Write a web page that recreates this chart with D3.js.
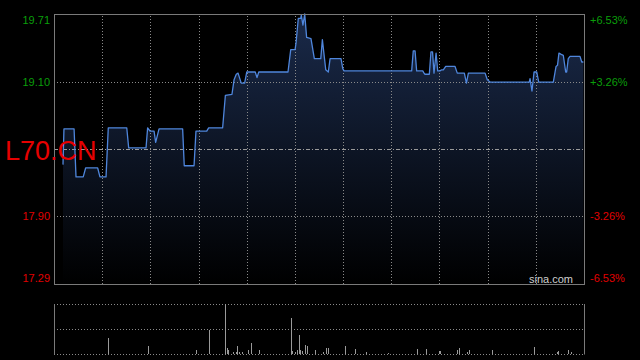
<!DOCTYPE html>
<html>
<head>
<meta charset="utf-8">
<script src="https://cdn.jsdelivr.net/npm/d3@7"></script>
<style>
  body { margin: 0; background: #000; }
  svg { display: block; }
  text { font-family: "Liberation Sans", Arial, sans-serif; }
</style>
</head>
<body>
<div id="chart"></div>
<script>
// intraday minute (0 = open) and price
var minutes = [5.6, 6.2, 12.5, 13.7, 18.2, 19.7, 27.2, 28.6, 32.4, 33.8,
  45.3, 46.5, 57.3, 58.3, 59.8, 62.3, 63.3, 65.4, 80.1, 81.1,
  87.2, 88.4, 95.1, 96.3, 105.0, 106.7, 110.8, 112.1, 113.5, 114.6,
  116.6, 118.7, 120.0, 125.3, 126.4, 127.5, 145.7, 147.4, 150.1, 150.7,
  152.1, 153.6, 154.0, 155.0, 156.1, 157.3, 160.0, 162.1, 166.1, 167.1,
  169.2, 170.8, 171.9, 178.7, 179.8, 180.6, 222.7, 223.7, 224.8, 225.8,
  229.6, 230.4, 231.0, 233.7, 234.7, 235.7, 236.6, 237.9, 238.9, 240.3,
  241.4, 242.4, 243.9, 249.7, 251.1, 255.5, 256.8, 258.0, 268.4, 269.8,
  271.5, 295.9, 296.4, 297.6, 298.9, 300.6, 301.8, 310.9, 312.6, 313.5,
  314.4, 315.5, 317.1, 318.6, 319.2, 320.2, 321.3, 327.5, 328.6, 329.6];
var prices = [18.36, 18.68, 18.68, 18.25, 18.25, 18.33, 18.33, 18.25, 18.25, 18.69,
  18.69, 18.51, 18.51, 18.69, 18.66, 18.66, 18.56, 18.68, 18.68, 18.35,
  18.35, 18.66, 18.66, 18.69, 18.69, 18.98, 18.99, 19.12, 19.17, 19.18,
  19.09, 19.09, 19.19, 19.19, 19.14, 19.19, 19.19, 19.39, 19.39, 19.45,
  19.67, 19.67, 19.70, 19.61, 19.71, 19.50, 19.49, 19.31, 19.31, 19.48,
  19.21, 19.19, 19.31, 19.31, 19.22, 19.20, 19.20, 19.38, 19.38, 19.20,
  19.20, 19.18, 19.17, 19.17, 19.37, 19.37, 19.18, 19.36, 19.20, 19.20,
  19.21, 19.21, 19.24, 19.24, 19.18, 19.18, 19.09, 19.18, 19.18, 19.12,
  19.10, 19.10, 19.13, 19.02, 19.19, 19.19, 19.10, 19.10, 19.24, 19.25,
  19.36, 19.35, 19.34, 19.19, 19.19, 19.31, 19.33, 19.33, 19.28, 19.28];

var volMinutes = [33.8, 58.7, 88.4, 96.7, 106.7, 107.9, 108.5, 111.5, 113.3, 113.8,
  115.0, 116.9, 121.0, 122.8, 127.8, 147.8, 148.4, 150.1, 151.3, 152.7,
  153.4, 154.6, 156.5, 157.7, 162.7, 167.7, 169.4, 170.8, 181.2, 187.6,
  194.5, 208.1, 226.2, 231.4, 239.5, 240.5, 251.1, 252.3, 257.3, 258.6,
  272.5, 299.1, 313.4, 314.0, 320.2, 322.1];
var volumes = [32000, 16000, 8000, 48000, 100000, 12000, 8000, 4000, 4000, 16000,
  4000, 4000, 8000, 22000, 8000, 72000, 6000, 4000, 8000, 38000,
  8000, 6000, 18000, 16000, 8000, 4000, 12000, 12000, 16000, 10000,
  4000, 2000, 10000, 10000, 6000, 6000, 8000, 12000, 4000, 8000,
  8000, 14000, 4000, 6000, 8000, 4000];

var prevClose = 18.50;
var priceTicks = [19.71, 19.10, 17.90, 17.29];
var pctTicks = ["+6.53%", "+3.26%", "-3.26%", "-6.53%"];
var symbol = "L70.CN";

var W = 640, H = 360;
var pLeft = 54, pRight = 584;
var pTop = 14, pBottom = 284;
var vTop = 304, vBottom = 354;

var svg = d3.select("#chart").append("svg")
  .attr("width", W).attr("height", H)
  .style("background", "#000");

var x = d3.scaleLinear().domain([0, 330]).range([pLeft, pRight]);
var y = d3.scaleLinear().domain([17.29, 19.71]).range([pBottom, pTop]);
var yv = d3.scaleLinear().domain([0, d3.max(volumes)]).range([vBottom, vTop]);

var defs = svg.append("defs");
var grad = defs.append("linearGradient").attr("id", "fillGrad")
  .attr("gradientUnits", "userSpaceOnUse")
  .attr("x1", 0).attr("y1", pTop).attr("x2", 0).attr("y2", pBottom);
grad.append("stop").attr("offset", "0%").attr("stop-color", "rgb(26,42,74)");
grad.append("stop").attr("offset", "100%").attr("stop-color", "rgb(0,0,0)");

var pts = minutes.map(function (m, i) { return [m, prices[i]]; });

// area under line
svg.append("path")
  .datum(pts)
  .attr("fill", "url(#fillGrad)")
  .attr("d", d3.area()
    .x(function (d) { return x(d[0]); })
    .y0(pBottom)
    .y1(function (d) { return y(d[1]); }));

// vertical grid, every 30 min
var xGrid = d3.axisBottom(x).tickValues(d3.range(30, 330, 30)).tickSize(-(pBottom - pTop)).tickFormat("");
svg.append("g").attr("class", "grid")
  .attr("transform", "translate(0," + pBottom + ")")
  .call(xGrid);

var yGrid = d3.axisLeft(y).tickValues([19.10, 17.90]).tickSize(-(pRight - pLeft)).tickFormat("");
svg.append("g").attr("class", "grid")
  .attr("transform", "translate(" + pLeft + ",0)")
  .call(yGrid);

svg.selectAll(".grid .domain").remove();
svg.selectAll(".grid line")
  .attr("stroke", "#8a8a8a")
  .attr("stroke-dasharray", "1,2")
  .attr("shape-rendering", "crispEdges");

// previous close
svg.append("line")
  .attr("x1", pLeft).attr("x2", pRight)
  .attr("y1", Math.round(y(prevClose)) + 0.5).attr("y2", Math.round(y(prevClose)) + 0.5)
  .attr("stroke", "#9a9a9a")
  .attr("stroke-dasharray", "4,2,1,2");

// price line
svg.append("path")
  .datum(pts)
  .attr("fill", "none")
  .attr("stroke", "#4f86dc")
  .attr("stroke-width", 1.3)
  .attr("stroke-linejoin", "round")
  .attr("d", d3.line()
    .x(function (d) { return x(d[0]); })
    .y(function (d) { return y(d[1]); }));

// frame
svg.append("rect")
  .attr("x", pLeft + 0.5).attr("y", pTop + 0.5)
  .attr("width", pRight - pLeft).attr("height", pBottom - pTop)
  .attr("fill", "none").attr("stroke", "#7a7a7a");

// left price labels
svg.selectAll(".plab")
  .data(priceTicks)
  .enter()
  .append("text")
  .attr("x", 50)
  .attr("y", function (d, i) {
    var yy = y(d);
    if (i == 0) { yy += 6; }
    if (i == priceTicks.length - 1) { yy -= 6; }
    return yy;
  })
  .attr("dy", "0.35em")
  .attr("text-anchor", "end")
  .attr("font-size", "11px")
  .attr("fill", function (d) { return d > prevClose ? "#0a9e0a" : "#e00000"; })
  .text(function (d) { return d.toFixed(2); });

// right percent labels
svg.selectAll(".rlab")
  .data(pctTicks)
  .enter()
  .append("text")
  .attr("x", 590)
  .attr("y", function (d, i) {
    var yy = y(priceTicks[i]);
    if (i == 0) { yy += 6; }
    if (i == pctTicks.length - 1) { yy -= 6; }
    return yy;
  })
  .attr("dy", "0.35em")
  .attr("font-size", "11px")
  .attr("fill", function (d) { return d[0] == "+" ? "#0a9e0a" : "#e00000"; })
  .text(function (d) { return d; });

// symbol
svg.append("text")
  .attr("x", 5).attr("y", 160)
  .attr("font-size", "27px")
  .attr("fill", "#e60000")
  .text(symbol);

// watermark
svg.append("text")
  .attr("x", 573).attr("y", 283)
  .attr("text-anchor", "end")
  .attr("font-size", "11px")
  .attr("fill", "#cfcfcf")
  .text("sina.com");

// volume panel
var vGrid = d3.axisLeft(yv).tickValues([0, d3.max(volumes) / 2, d3.max(volumes)]).tickSize(-(pRight - pLeft)).tickFormat("");
var vg = svg.append("g").attr("transform", "translate(" + pLeft + ",0)").call(vGrid);
vg.select(".domain").remove();
vg.selectAll("line")
  .attr("stroke", "#8a8a8a")
  .attr("stroke-dasharray", "1,2")
  .attr("shape-rendering", "crispEdges");

svg.selectAll(".vbar")
  .data(volMinutes)
  .enter()
  .append("line")
  .attr("x1", function (d) { return Math.round(x(d)) + 0.5; })
  .attr("x2", function (d) { return Math.round(x(d)) + 0.5; })
  .attr("y1", vBottom)
  .attr("y2", function (d, i) { return yv(volumes[i]); })
  .attr("stroke", "#9a9a9a")
  .attr("stroke-width", 1);

[pLeft, pRight].forEach(function (xx) {
  svg.append("line")
    .attr("x1", xx + 0.5).attr("x2", xx + 0.5)
    .attr("y1", vTop).attr("y2", vBottom + 0.5)
    .attr("stroke", "#7a7a7a");
});
</script>
</body>
</html>
